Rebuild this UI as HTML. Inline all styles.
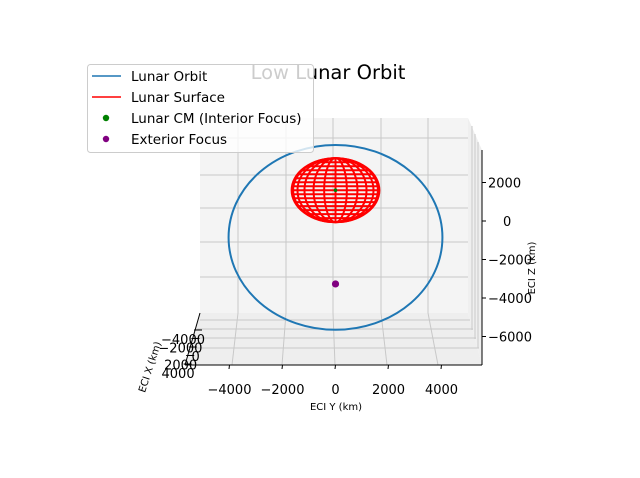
<!DOCTYPE html>
<html><head><meta charset="utf-8"><style>
body{margin:0;background:#fff}
svg{display:block;font-family:"DejaVu Sans","Liberation Sans",sans-serif}
</style></head><body>
<svg id="c" width="640" height="478" viewBox="0 0 640 478">
<text x="328" y="79" font-size="19.5" text-anchor="middle" fill="#000">Low Lunar Orbit</text>
<g id="plot"></g>
<g>
<rect x="87.5" y="64.5" width="226" height="88" rx="3" fill="#fff" fill-opacity="0.8" stroke="#ccc"/>
<line x1="92" y1="76" x2="121" y2="76" stroke="#1f77b4" stroke-width="1.5"/>
<text x="131" y="81" font-size="13.5">Lunar Orbit</text>
<line x1="92" y1="97" x2="121" y2="97" stroke="#f00" stroke-width="1.5"/>
<text x="131" y="102" font-size="13.5">Lunar Surface</text>
<circle cx="106" cy="118" r="3.2" fill="green"/>
<text x="131" y="123" font-size="13.5">Lunar CM (Interior Focus)</text>
<circle cx="106" cy="139" r="3.2" fill="purple"/>
<text x="131" y="144" font-size="13.5">Exterior Focus</text>
</g>
</svg>
<script>
const yTicks=[-4000,-2000,0,2000,4000];
const zTicks=[2000,0,-2000,-4000,-6000];
const xTicks=[-4000,-2000,0,2000,4000];
const orbitCenter=[0,-850]; // y,z km
const orbitRadii=[5550,4800];
const moonCenter=[0,1600];
const moonRadii=[2300,1660];
const cmPoint=[0,1600];
const exteriorFocus=[0,-3270];
const NS="http://www.w3.org/2000/svg";
const g=document.getElementById('plot');
function sy(v){return 335.5+v*0.0265;}
function sz(v){return 221-v*0.01925;}
function el(t,a,p){const e=document.createElementNS(NS,t);for(const k in a)e.setAttribute(k,a[k]);(p||g).appendChild(e);return e;}
let e;
e=el('polygon',{points:'200,118 468,118 468,313 200,313',fill:'#f4f4f4'});

e=el('polygon',{points:'200,313 468,313 482,365 185,365',fill:'#eeeeee'});

e=el('polygon',{points:'468,118 482,150 482,365 468,313',fill:'#efefef'});

[238,286,333,381,428].forEach(x=>{el('line',{x1:x,y1:118,x2:x,y2:313,stroke:'#c8c8c8','stroke-width':1});});
[138,175,208,242,277].forEach(y=>{el('line',{x1:200,y1:y,x2:468,y2:y,stroke:'#c8c8c8','stroke-width':1});});
[[238,232],[286,282],[333,335],[381,387],[428,438]].forEach(p=>{el('line',{x1:p[0],y1:313,x2:p[1],y2:365,stroke:'#c8c8c8'});});
[320,329,338,348].forEach((y,i)=>{el('line',{x1:200-i*3.5,y1:y,x2:470+i*3,y2:y,stroke:'#c8c8c8'});});
[472,475,478].forEach((x,i)=>{el('line',{x1:x,y1:126+i*8,x2:x,y2:330+i*9,stroke:'#c8c8c8'});});
el('line',{x1:185,y1:365,x2:482,y2:365,stroke:'#000'});
el('line',{x1:482,y1:150,x2:482,y2:365,stroke:'#000'});
el('line',{x1:200,y1:313,x2:185,y2:365,stroke:'#000'});
yTicks.forEach(v=>{const x=sy(v);el('line',{x1:x,y1:365,x2:x-0.5,y2:369,stroke:'#000'});
 const t=el('text',{x:x,y:394,'font-size':13,'text-anchor':'middle'});t.textContent=(v<0?'\u2212':'')+Math.abs(v);
 });
e=el('text',{x:336,y:410,'font-size':10,'text-anchor':'middle'});e.textContent='ECI Y (km)';

zTicks.forEach(v=>{const y=sz(v);el('line',{x1:482,y1:y,x2:486,y2:y,stroke:'#000'});
 const t=el('text',{x:v===0?503:488,y:y+5,'font-size':13});t.textContent=(v<0?'\u2212':'')+Math.abs(v);
 });
e=el('text',{x:0,y:0,'font-size':10,'text-anchor':'middle',transform:'translate(535,268) rotate(-90)'});e.textContent='ECI Z (km)';

xTicks.forEach((v,i)=>{const y=344+i*8.5,x=198-i*2.6;el('line',{x1:x-4,y1:y-14,x2:x+4,y2:y-14,stroke:'#000'});
 const t=el('text',{x:x+7,y:y,'font-size':13,'text-anchor':'end'});t.textContent=(v<0?'\u2212':'')+Math.abs(v);
 });
e=el('text',{x:0,y:0,'font-size':10,'text-anchor':'middle',transform:'translate(153,368) rotate(-72)'});e.textContent='ECI X (km)';

const mcx=sy(moonCenter[0]),mcy=sz(moonCenter[1]),mrx=moonRadii[0]*0.0265*0.72,mry=moonRadii[1]*0.01925;
const mg=el('g',{fill:'none',stroke:'#f00','stroke-width':2});

for(let k=0;k<=6;k++){const f=Math.cos(k*Math.PI/12);el('ellipse',{cx:mcx,cy:mcy,rx:mrx*f,ry:mry},mg);}
for(let k=-7;k<=7;k++){const yy=mcy+mry*k/8;const w=mrx*Math.sqrt(1-(k/8)**2);el('line',{x1:mcx-w,y1:yy,x2:mcx+w,y2:yy},mg);}
e=el('ellipse',{cx:sy(orbitCenter[0]),cy:sz(orbitCenter[1]),rx:orbitRadii[0]*0.0265*0.727,ry:orbitRadii[1]*0.01925,fill:'none',stroke:'#1f77b4','stroke-width':2});

e=el('circle',{cx:sy(cmPoint[0]),cy:sz(cmPoint[1]),r:1.8,fill:'green'});

e=el('circle',{cx:sy(exteriorFocus[0]),cy:sz(exteriorFocus[1]),r:3.6,fill:'purple'});

</script>
</body></html>
